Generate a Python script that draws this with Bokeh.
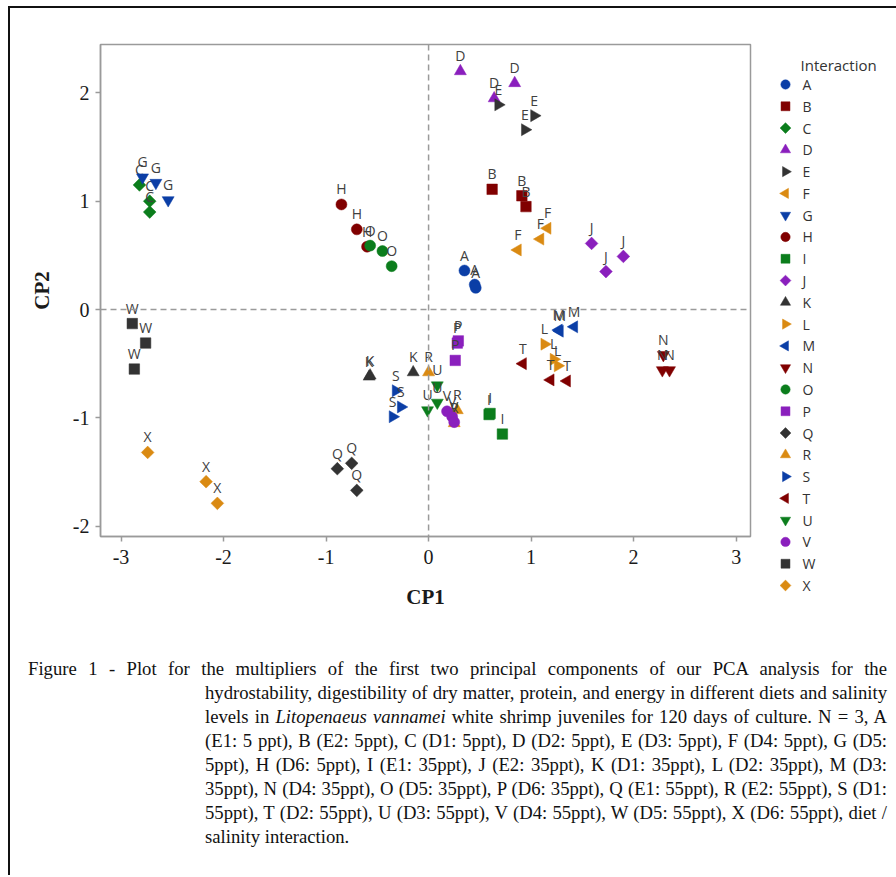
import math
from bokeh.plotting import figure
from bokeh.models import Span, Div, FixedTicker, Range1d, FactorRange, ColumnDataSource
from bokeh.layouts import column, row
from bokeh.embed import file_html
from bokeh.resources import INLINE
from bokeh.core.properties import value

# ---------------- data ----------------
groups = list("ABCDEFGHIJKLMNOPQRSTUVWX")
cp1 = [
    [0.35, 0.45, 0.46],     # A
    [0.62, 0.91, 0.95],     # B
    [-2.82, -2.72, -2.72],  # C
    [0.31, 0.84, 0.64],     # D
    [0.68, 1.03, 0.94],     # E
    [1.16, 1.09, 0.87],     # F
    [-2.79, -2.66, -2.54],  # G
    [-0.85, -0.70, -0.60],  # H
    [0.59, 0.72, 0.60],     # I
    [1.59, 1.90, 1.73],     # J
    [-0.58, -0.15, -0.57],  # K
    [1.13, 1.22, 1.26],     # L
    [1.27, 1.42, 1.28],     # M
    [2.29, 2.28, 2.35],     # N
    [-0.57, -0.45, -0.36],  # O
    [0.29, 0.26, 0.28],     # P
    [-0.89, -0.75, -0.70],  # Q
    [0.00, 0.28, 0.25],     # R
    [-0.32, -0.27, -0.35],  # S
    [0.92, 1.19, 1.35],     # T
    [0.085, 0.085, -0.01],  # U
    [0.18, 0.23, 0.25],     # V
    [-2.89, -2.76, -2.87],  # W
    [-2.74, -2.17, -2.06],  # X
]
cp2 = [
    [0.36, 0.23, 0.20],     # A
    [1.11, 1.05, 0.95],     # B
    [1.15, 1.00, 0.90],     # C
    [2.20, 2.09, 1.95],     # D
    [1.89, 1.79, 1.66],     # E
    [0.75, 0.65, 0.55],     # F
    [1.22, 1.17, 1.01],     # G
    [0.97, 0.74, 0.58],     # H
    [-0.97, -1.15, -0.96],  # I
    [0.61, 0.49, 0.35],     # J
    [-0.62, -0.58, -0.61],  # K
    [-0.32, -0.46, -0.52],  # L
    [-0.19, -0.16, -0.20],  # M
    [-0.42, -0.56, -0.56],  # N
    [0.59, 0.54, 0.40],     # O
    [-0.29, -0.47, -0.31],  # P
    [-1.47, -1.42, -1.67],  # Q
    [-0.58, -0.93, -1.05],  # R
    [-0.75, -0.90, -0.99],  # S
    [-0.50, -0.65, -0.66],  # T
    [-0.70, -0.86, -0.93],  # U
    [-0.94, -0.99, -1.04],  # V
    [-0.13, -0.31, -0.55],  # W
    [-1.32, -1.59, -1.79],  # X
]
x_ticks = [-3, -2, -1, 0, 1, 2, 3]
y_ticks = [-2, -1, 0, 1, 2]
x_label = "CP1"
y_label = "CP2"
legend_title = "Interaction"
caption_lines = [
    "Figure 1 - Plot for the multipliers of the first two principal components of our PCA analysis for the",
    "hydrostability, digestibility of dry matter, protein, and energy in different diets and salinity",
    "levels in <i>Litopenaeus vannamei</i> white shrimp juveniles for 120 days of culture. N = 3, A",
    "(E1: 5 ppt), B (E2: 5ppt), C (D1: 5ppt), D (D2: 5ppt), E (D3: 5ppt), F (D4: 5ppt), G (D5:",
    "5ppt), H (D6: 5ppt), I (E1: 35ppt), J (E2: 35ppt), K (D1: 35ppt), L (D2: 35ppt), M (D3:",
    "35ppt), N (D4: 35ppt), O (D5: 35ppt), P (D6: 35ppt), Q (E1: 55ppt), R (E2: 55ppt), S (D1:",
    "55ppt), T (D2: 55ppt), U (D3: 55ppt), V (D4: 55ppt), W (D5: 55ppt), X (D6: 55ppt), diet /",
    "salinity interaction.",
]

# ---------------- styles ----------------
palette = ["#0b3ea6", "#800000", "#0b7d1c", "#8a1fbd", "#333333", "#da8a12"]
shapes = [
    ("circle", 0.0, 11),
    ("square", 0.0, 10.5),
    ("square", math.pi / 4, 9),
    ("triangle", 0.0, 12),
    ("triangle", -math.pi / 2, 12),
    ("triangle", math.pi / 2, 12),
    ("inverted_triangle", 0.0, 12),
]
FIG_H = 632

# ---------------- main scatter ----------------
p = figure(
    frame_width=650, frame_height=492,
    min_border_left=90, min_border_right=10, min_border_top=36, min_border_bottom=104,
    x_range=Range1d(-3.2, 3.14), y_range=Range1d(-2.096, 2.447),
    output_backend="svg", toolbar_location=None,
    background_fill_color="white", border_fill_color="white",
)
p.xgrid.visible = False
p.ygrid.visible = False
p.outline_line_color = "#9a9a9a"
p.outline_line_width = 1.5

for ax, ticks, lab in ((p.xaxis[0], x_ticks, x_label), (p.yaxis[0], y_ticks, y_label)):
    ax.ticker = FixedTicker(ticks=ticks)
    ax.major_label_overrides = {t: str(t) for t in ticks}
    ax.axis_line_color = "#9a9a9a"
    ax.axis_line_width = 1.5
    ax.major_tick_line_color = "#9a9a9a"
    ax.major_tick_line_width = 1.5
    ax.major_tick_out = 5
    ax.major_tick_in = 0
    ax.minor_tick_line_color = None
    ax.major_label_text_font = "Liberation Serif"
    ax.major_label_text_font_size = "20px"
    ax.major_label_text_color = "#1a1a1a"
    ax.axis_label = lab
    ax.axis_label_text_font = "Liberation Serif"
    ax.axis_label_text_font_style = "bold"
    ax.axis_label_text_font_size = "21px"
    ax.axis_label_text_color = "#1a1a1a"
p.xaxis.major_label_standoff = 8
p.xaxis.axis_label_standoff = 18
p.yaxis.major_label_standoff = 6
p.yaxis.axis_label_standoff = 16

p.add_layout(Span(location=0, dimension="height", line_color="#9a9a9a", line_width=1.5, line_dash="6 4"))
p.add_layout(Span(location=0, dimension="width", line_color="#9a9a9a", line_width=1.5, line_dash="6 4"))

for i, g in enumerate(groups):
    marker, ang, size = shapes[i % 7]
    src = ColumnDataSource(dict(x=cp1[i], y=cp2[i], t=[g] * len(cp1[i])))
    p.scatter("x", "y", source=src, marker=marker, angle=ang, size=size,
              fill_color=palette[i % 6], line_color=palette[i % 6], line_width=0.5)
    p.text("x", "y", text="t", source=src, text_align="center", text_baseline="bottom",
           y_offset=-6, text_font=value("Open Sans"), text_font_size="14px", text_color="#404040")

# ---------------- legend panel (its own small figure) ----------------
LG_FRAME_H = 581
lg = figure(
    frame_width=136, frame_height=LG_FRAME_H,
    min_border_left=0, min_border_right=0, min_border_top=36,
    min_border_bottom=FIG_H - 36 - LG_FRAME_H,
    x_range=Range1d(-25, 111),
    y_range=FactorRange(factors=groups[::-1], range_padding=1.3365, range_padding_units="absolute"),
    x_axis_location=None, y_axis_location=None,
    output_backend="svg", toolbar_location=None,
    background_fill_color="white", border_fill_color="white",
)
lg.outline_line_color = None
lg.xgrid.visible = False
lg.ygrid.visible = False
for i, g in enumerate(groups):
    marker, ang, size = shapes[i % 7]
    lg.scatter(x=[0], y=[g], marker=marker, angle=ang, size=size * 0.85,
               fill_color=palette[i % 6], line_color=palette[i % 6], line_width=0.5)
lg.text(x=[0] * len(groups), y=groups, text=groups, x_offset=17, text_align="left",
        text_baseline="middle", text_font=value("Open Sans"), text_font_size="14px",
        text_color="#333333")
lg.text(x=[0], y=[groups[0]], text=[legend_title], x_offset=15, y_offset=-20,
        text_align="left", text_baseline="middle", text_font=value("Open Sans"),
        text_font_size="15px", text_color="#333333")

# ---------------- caption ----------------
html_lines = []
for k, ln in enumerate(caption_lines):
    pad = 13 if k == 0 else 190
    last = k == len(caption_lines) - 1
    align = "text-align:left;" if last else "text-align:justify;text-align-last:justify;"
    html_lines.append(f'<div style="padding-left:{pad}px;{align}">{ln}</div>')
caption = Div(
    text='<div style="width:872px;font-family:\'Liberation Serif\';font-size:18.7px;line-height:24px;color:#111;padding-top:12px;">'
         + "".join(html_lines) + "</div>",
    width=886, height=225,
)

layout = column(row(p, lg, spacing=0), caption, spacing=0,
                styles={"margin-left": "8px", "margin-top": "6px",
                        "border-left": "2px solid #111", "border-top": "2px solid #111"})

open("out.html", "w").write(file_html(layout, INLINE))
